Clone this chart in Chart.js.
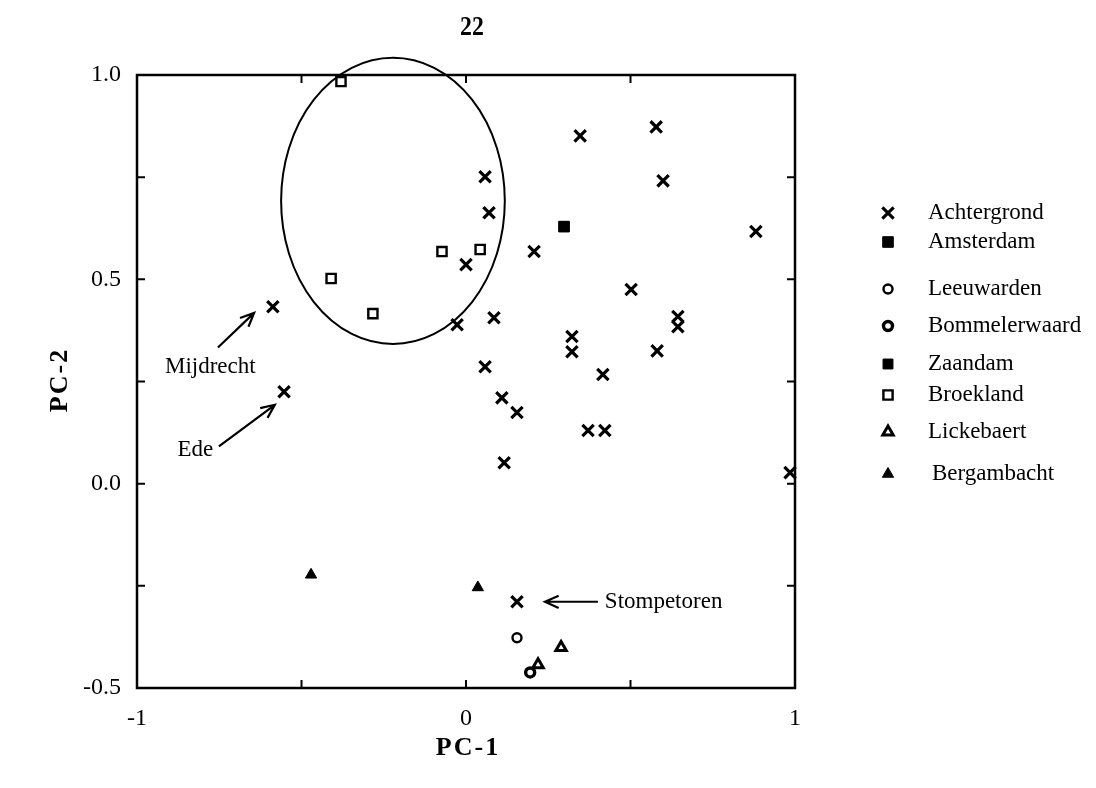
<!DOCTYPE html>
<html>
<head>
<meta charset="utf-8">
<script src="https://cdn.jsdelivr.net/npm/chart.js@4/dist/chart.umd.min.js"></script>
<style>
  html, body { margin: 0; padding: 0; background: #fff; }
  #wrap { width: 1096px; height: 788px; position: relative; }
</style>
</head>
<body>
<div id="wrap"><canvas id="c" width="1096" height="788"></canvas></div>
<script>
// PCA scores per site group (PC-1, PC-2)
const achtergrondX = [-0.587, -0.553, 0.058, 0.070, 0.000, -0.027, 0.085, 0.058, 0.109, 0.155, 0.116, 0.155, 0.347, 0.207, 0.578, 0.599, 0.881, 0.502, 0.644, 0.644, 0.322, 0.322, 0.581, 0.416, 0.371, 0.422, 0.985];
const achtergrondY = [0.433, 0.225, 0.751, 0.663, 0.536, 0.389, 0.406, 0.286, 0.210, 0.174, 0.051, -0.289, 0.851, 0.568, 0.873, 0.741, 0.617, 0.475, 0.409, 0.384, 0.360, 0.323, 0.325, 0.267, 0.130, 0.130, 0.027];
const amsterdamX = [0.298];
const amsterdamY = [0.629];
const leeuwardenX = [0.155];
const leeuwardenY = [-0.377];
const bommelerwaardX = [0.195];
const bommelerwaardY = [-0.462];
const zaandamX = [0.298];
const zaandamY = [0.629];
const broeklandX = [-0.380, -0.073, 0.043, -0.410, -0.283];
const broeklandY = [0.984, 0.568, 0.573, 0.502, 0.416];
const lickebaertX = [0.289, 0.219];
const lickebaertY = [-0.401, -0.443];
const bergambachtX = [-0.471, 0.036];
const bergambachtY = [-0.223, -0.254];

const seriesNames = ['Achtergrond', 'Amsterdam', 'Leeuwarden', 'Bommelerwaard', 'Zaandam', 'Broekland', 'Lickebaert', 'Bergambacht'];

// Axis ticks
const xTickValues = [-1, 0, 1];
const xTickLabels = ['-1', '0', '1'];
const yTickValues = [1, 0.5, 0, -0.5];
const yTickLabels = ['1.0', '0.5', '0.0', '-0.5'];
const xAxisTitle = 'PC-1';
const yAxisTitle = 'PC-2';
const pageNumber = '22';

// Cluster ellipse (centre and radii in PC units)
const ellipseCenter = { x: -0.222, y: 0.692 };
const ellipseRadius = { x: 0.340, y: 0.350 };

// Labelled sites: text anchor and arrow tail -> head, in PC units
const callouts = [
  { text: 'Mijdrecht', tx: -0.915, ty: 0.286, from: [-0.754, 0.333], to: [-0.644, 0.418] },
  { text: 'Ede', tx: -0.877, ty: 0.083, from: [-0.751, 0.091], to: [-0.581, 0.193] },
  { text: 'Stompetoren', tx: 0.422, ty: -0.289, from: [0.401, -0.289], to: [0.240, -0.289] }
];

const SERIF = '"Liberation Serif", "DejaVu Serif", serif';

function pts(xs, ys) { return xs.map((x, i) => ({ x: x, y: ys[i] })); }

const markerStyles = [
  { pointStyle: 'crossRot', radius: 8, borderWidth: 3.2, bg: '#000' },
  { pointStyle: 'rect', radius: 7.5, borderWidth: 1, bg: '#000' },
  { pointStyle: 'circle', radius: 4.5, borderWidth: 2.4, bg: '#fff' },
  { pointStyle: 'circle', radius: 4.5, borderWidth: 3.4, bg: '#fff' },
  { pointStyle: 'rect', radius: 7, borderWidth: 1, bg: '#000' },
  { pointStyle: 'rect', radius: 6.5, borderWidth: 2.4, bg: '#fff' },
  { pointStyle: 'triangle', radius: 6, borderWidth: 3, bg: '#fff' },
  { pointStyle: 'triangle', radius: 6.5, borderWidth: 1, bg: '#000' }
];

const seriesData = [
  pts(achtergrondX, achtergrondY),
  pts(amsterdamX, amsterdamY),
  pts(leeuwardenX, leeuwardenY),
  pts(bommelerwaardX, bommelerwaardY),
  pts(zaandamX, zaandamY),
  pts(broeklandX, broeklandY),
  pts(lickebaertX, lickebaertY),
  pts(bergambachtX, bergambachtY)
];

const datasets = seriesNames.map((name, i) => ({
  label: name,
  data: seriesData[i],
  pointStyle: markerStyles[i].pointStyle,
  pointRadius: markerStyles[i].radius,
  pointHoverRadius: markerStyles[i].radius,
  pointBorderWidth: markerStyles[i].borderWidth,
  borderColor: '#000',
  backgroundColor: markerStyles[i].bg,
  pointBackgroundColor: markerStyles[i].bg,
  pointBorderColor: '#000',
  showLine: false,
  clip: false
}));

function drawMarker(ctx, style, x, y) {
  ctx.save();
  ctx.strokeStyle = '#000';
  ctx.fillStyle = style.bg;
  ctx.lineWidth = style.borderWidth;
  if (Chart.helpers && Chart.helpers.drawPoint) {
    Chart.helpers.drawPoint(ctx, { pointStyle: style.pointStyle, radius: style.radius, rotation: 0, borderWidth: style.borderWidth }, x, y);
  }
  ctx.restore();
}

function arrow(ctx, x1, y1, x2, y2) {
  const a = Math.atan2(y2 - y1, x2 - x1);
  const h = 15, spread = 0.42;
  ctx.beginPath();
  ctx.moveTo(x1, y1);
  ctx.lineTo(x2, y2);
  ctx.moveTo(x2 - h * Math.cos(a - spread), y2 - h * Math.sin(a - spread));
  ctx.lineTo(x2, y2);
  ctx.lineTo(x2 - h * Math.cos(a + spread), y2 - h * Math.sin(a + spread));
  ctx.stroke();
}

const decorations = {
  id: 'decorations',
  afterDatasetsDraw(chart) {
    const ctx = chart.ctx;
    const xs = chart.scales.x, ys = chart.scales.y;
    const area = chart.chartArea;
    ctx.save();
    ctx.strokeStyle = '#000';
    ctx.fillStyle = '#000';

    // frame
    ctx.lineWidth = 2.5;
    ctx.strokeRect(area.left, area.top, area.right - area.left, area.bottom - area.top);

    // inward ticks on all four sides
    ctx.lineWidth = 2;
    const tl = 8;
    xs.ticks.forEach(t => {
      const px = xs.getPixelForValue(t.value);
      ctx.beginPath();
      ctx.moveTo(px, area.bottom); ctx.lineTo(px, area.bottom - tl);
      ctx.moveTo(px, area.top); ctx.lineTo(px, area.top + tl);
      ctx.stroke();
    });
    ys.ticks.forEach(t => {
      const py = ys.getPixelForValue(t.value);
      ctx.beginPath();
      ctx.moveTo(area.left, py); ctx.lineTo(area.left + tl, py);
      ctx.moveTo(area.right, py); ctx.lineTo(area.right - tl, py);
      ctx.stroke();
    });

    // cluster ellipse
    const cx = xs.getPixelForValue(ellipseCenter.x);
    const cy = ys.getPixelForValue(ellipseCenter.y);
    const rx = Math.abs(xs.getPixelForValue(ellipseCenter.x + ellipseRadius.x) - cx);
    const ry = Math.abs(ys.getPixelForValue(ellipseCenter.y + ellipseRadius.y) - cy);
    ctx.lineWidth = 2;
    ctx.beginPath();
    ctx.ellipse(cx, cy, rx, ry, 0, 0, Math.PI * 2);
    ctx.stroke();

    // callouts
    ctx.font = '23px ' + SERIF;
    ctx.textAlign = 'left';
    ctx.textBaseline = 'middle';
    ctx.lineWidth = 2.2;
    callouts.forEach(c => {
      ctx.fillText(c.text, xs.getPixelForValue(c.tx), ys.getPixelForValue(c.ty));
      arrow(ctx,
        xs.getPixelForValue(c.from[0]), ys.getPixelForValue(c.from[1]),
        xs.getPixelForValue(c.to[0]), ys.getPixelForValue(c.to[1]));
    });

    // legend
    const legendRows = [213, 242, 289, 326, 364, 395, 432, 474];
    ctx.font = '23px ' + SERIF;
    seriesNames.forEach((name, i) => {
      const y = legendRows[i];
      drawMarker(ctx, markerStyles[i], 888, y);
      ctx.fillStyle = '#000';
      ctx.fillText(name, i === 7 ? 932 : 928, y);
    });

    // axis titles and page number
    ctx.textAlign = 'center';
    ctx.font = 'bold 26px ' + SERIF;
    if ('letterSpacing' in ctx) ctx.letterSpacing = '2px';
    ctx.fillText(xAxisTitle, 468, 748);
    ctx.save();
    ctx.translate(60, 380);
    ctx.rotate(-Math.PI / 2);
    ctx.fillText(yAxisTitle, 0, 0);
    ctx.restore();
    if ('letterSpacing' in ctx) ctx.letterSpacing = '0px';
    ctx.save();
    ctx.translate(472, 28);
    ctx.scale(0.85, 1);
    ctx.font = 'bold 28px ' + SERIF;
    ctx.fillText(pageNumber, 0, 0);
    ctx.restore();

    ctx.restore();
  }
};

function labelFor(values, labels, v) {
  const i = values.findIndex(t => Math.abs(t - v) < 1e-6);
  return i >= 0 ? labels[i] : '';
}

new Chart(document.getElementById('c'), {
  type: 'scatter',
  data: { datasets: datasets },
  options: {
    responsive: false,
    animation: false,
    devicePixelRatio: 1,
    layout: { padding: { top: 75, right: 301, left: 0, bottom: 0 } },
    plugins: { legend: { display: false }, tooltip: { enabled: false }, title: { display: false } },
    scales: {
      x: {
        type: 'linear', min: -1, max: 1,
        grid: { display: false, drawTicks: false },
        border: { display: false },
        ticks: {
          stepSize: 0.5, autoSkip: false, maxRotation: 0, padding: 16,
          color: '#000', font: { family: SERIF, size: 24 },
          callback: v => labelFor(xTickValues, xTickLabels, v)
        },
        afterFit: s => { s.height = 100; }
      },
      y: {
        type: 'linear', min: -0.5, max: 1,
        grid: { display: false, drawTicks: false },
        border: { display: false },
        ticks: {
          stepSize: 0.25, autoSkip: false, padding: 16,
          color: '#000', font: { family: SERIF, size: 24 },
          callback: v => labelFor(yTickValues, yTickLabels, v)
        },
        afterFit: s => { s.width = 137; }
      }
    }
  },
  plugins: [decorations]
});
</script>
</body>
</html>
